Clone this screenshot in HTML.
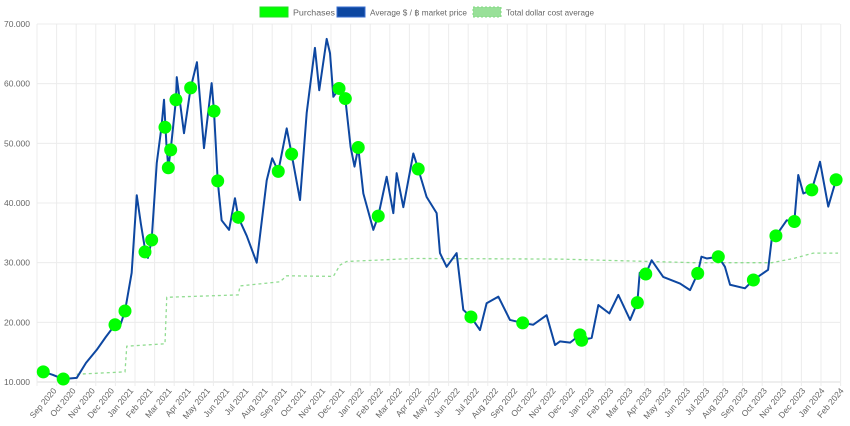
<!DOCTYPE html>
<html><head><meta charset="utf-8"><style>
body{margin:0;background:#fff;}
svg{display:block;font-family:"Liberation Sans","DejaVu Sans",sans-serif;}
</style></head><body>
<svg id="chart" width="850" height="426" viewBox="0 0 850 426" xmlns="http://www.w3.org/2000/svg">
<g font-size="8.5" fill="#666">
<g><rect x="260" y="7" width="28" height="10" fill="#00ff00" stroke="#22dd22" stroke-width="1"/><text x="293" y="15.5" textLength="42" lengthAdjust="spacingAndGlyphs">Purchases</text></g>
<g><rect x="337" y="7" width="28" height="10" fill="#0d47a1" stroke="#3a6fd0" stroke-width="1"/><text x="370" y="15.5" textLength="97" lengthAdjust="spacingAndGlyphs">Average $ / ฿ market price</text></g>
<g><rect x="473" y="7" width="28" height="10" fill="#98e098" stroke="#80d880" stroke-width="1" stroke-dasharray="2,2"/><text x="506" y="15.5" textLength="88" lengthAdjust="spacingAndGlyphs">Total dollar cost average</text></g>
</g>
<g id="grid"></g>
<g id="yaxis"></g>
<g id="xaxis"></g>
<g id="series"></g>
</svg>
<script>
const monthLabels=["Sep 2020","Oct 2020","Nov 2020","Dec 2020","Jan 2021","Feb 2021","Mar 2021","Apr 2021","May 2021","Jun 2021","Jul 2021","Aug 2021","Sep 2021","Oct 2021","Nov 2021","Dec 2021","Jan 2022","Feb 2022","Mar 2022","Apr 2022","May 2022","Jun 2022","Jul 2022","Aug 2022","Sep 2022","Oct 2022","Nov 2022","Dec 2022","Jan 2023","Feb 2023","Mar 2023","Apr 2023","May 2023","Jun 2023","Jul 2023","Aug 2023","Sep 2023","Oct 2023","Nov 2023","Dec 2023","Jan 2024","Feb 2024"];
const yTicks=[10000,20000,30000,40000,50000,60000,70000];
const yTickLabels=["10.000","20.000","30.000","40.000","50.000","60.000","70.000"];
const priceMonths=[0,0.32,0.8,1.34,2.03,2.5,3.05,3.5,3.98,4.2,4.49,4.83,5.09,5.3,5.5,5.66,5.85,6.11,6.35,6.48,6.6,6.7,6.82,7.09,7.13,7.5,7.84,8.16,8.52,8.91,9.03,9.22,9.42,9.8,10.1,10.27,10.7,11.21,11.72,12.0,12.31,12.74,12.99,13.42,13.76,14.18,14.4,14.78,14.95,15.12,15.41,15.73,16.0,16.2,16.39,16.65,17.16,17.41,17.84,18.18,18.35,18.69,19.2,19.45,19.88,20.39,20.56,20.9,21.41,21.75,22.14,22.6,22.94,23.54,24.13,24.78,25.32,26.0,26.43,26.68,27.2,27.7,27.79,28.3,28.64,29.2,29.66,30.26,30.63,30.75,31.06,31.36,31.95,32.81,33.32,33.71,33.9,34.17,34.76,35.1,35.36,36.12,36.55,37.3,37.48,37.7,38.25,38.64,38.84,39.1,39.53,39.95,40.37,40.77,40.87];
const priceValues=[11.8,11.7,11.2,10.5,10.7,13.2,15.4,17.5,19.6,19.0,21.9,28.3,41.3,36.5,32.5,30.8,33.8,46.7,52.7,57.3,50,45.9,48.9,57.3,61.1,51.7,59.3,63.6,49.2,60.1,55.4,43.7,37.1,35.5,40.8,37.6,34.5,30.0,43.8,47.5,45.3,52.5,48.2,40.5,55.1,66.0,58.9,67.5,65.1,57.8,59.2,57.5,49.4,46.1,49.3,41.6,35.5,37.8,44.4,38.3,45.0,39.3,48.3,45.7,41.0,38.3,31.6,29.3,31.6,22.1,20.9,18.7,23.2,24.3,20.4,19.9,19.6,21.2,16.2,16.8,16.6,17.9,17.0,17.4,22.9,21.5,24.6,20.4,23.3,28.3,28.1,30.4,27.6,26.5,25.4,28.2,31.0,30.7,31.0,29.3,26.3,25.7,27.1,28.8,33.8,34.5,37.1,36.9,44.7,41.6,42.2,46.9,39.4,43.9,44.5];
const purchaseMonths=[0.32,1.34,3.98,4.49,5.51,5.85,6.53,6.70,6.82,7.09,7.84,9.03,9.22,10.27,12.31,12.99,15.41,15.73,16.39,17.41,19.45,22.14,24.78,27.7,27.79,30.63,31.06,33.71,34.76,36.55,37.7,38.64,39.53,40.77];
const purchaseValues=[11.7,10.5,19.6,21.9,31.8,33.8,52.7,45.9,48.9,57.3,59.3,55.4,43.7,37.6,45.3,48.2,59.2,57.5,49.3,37.8,45.7,20.9,19.9,17.9,17.0,23.3,28.1,28.2,31.0,27.1,34.5,36.9,42.2,43.9];
const dcaMonths=[2.03,4.49,4.58,6.53,6.62,10.27,10.36,12.4,12.74,15.12,15.46,15.8,19.2,26.68,33.5,37.5,38.6,39.6,40.87];
const dcaValues=[11.3,11.7,16.0,16.4,24.2,24.6,26.1,26.8,27.8,27.7,29.6,30.2,30.7,30.6,30.0,30.0,30.7,31.6,31.6];

const NS="http://www.w3.org/2000/svg";
const X0=37, MW=19.6, Y0=382, YTOP=24, X1=840;
function xScale(m){return X0+m*MW;}
function yScale(v){return Y0-(v-10000)/60000*(Y0-YTOP);}
function mk(tag,attrs,parent){const e=document.createElementNS(NS,tag);for(const k in attrs)e.setAttribute(k,attrs[k]);parent.appendChild(e);return e;}
const grid=document.getElementById('grid'),ya=document.getElementById('yaxis'),xa=document.getElementById('xaxis'),ser=document.getElementById('series');
yTicks.forEach((t,i)=>{
  const y=yScale(t);
  const l=mk('line',{x1:X0,x2:X1,y1:y,y2:y,stroke:i===0?'#ddd':'#ececec','stroke-width':1},grid);
  
  
  const tx=mk('text',{x:30,y:y+3,'text-anchor':'end','font-size':8.5,fill:'#666'},ya);
  tx.textContent=yTickLabels[i];
  
  
});
monthLabels.forEach((lab,i)=>{
  const x=xScale(i);
  const l=mk('line',{x1:x,x2:x,y1:YTOP,y2:Y0+4,stroke:'#ececec','stroke-width':1},grid);
  
  
  const ex=57+i*19.2;
  const tx=mk('text',{x:0,y:0,'text-anchor':'end','font-size':8.5,fill:'#666',transform:'translate('+ex+',391) rotate(-50)'},xa);
  tx.textContent=lab;
  
  
});
const dcaPts=dcaMonths.map((m,i)=>xScale(m)+','+yScale(dcaValues[i]*1000)).join(' ');
const dca=mk('polyline',{points:dcaPts,fill:'none',stroke:'#90dc90','stroke-width':1.3,'stroke-dasharray':'3,3'},ser);


const pPts=priceMonths.map((m,i)=>xScale(m)+','+yScale(priceValues[i]*1000)).join(' ');
const pl=mk('polyline',{points:pPts,fill:'none',stroke:'#0d47a1','stroke-width':2,'stroke-linejoin':'round'},ser);


purchaseMonths.forEach((m,i)=>{
  const c=mk('circle',{cx:xScale(m),cy:yScale(purchaseValues[i]*1000),r:6.5,fill:'#00ff00'},ser);
  
  
});
</script>
</body></html>
